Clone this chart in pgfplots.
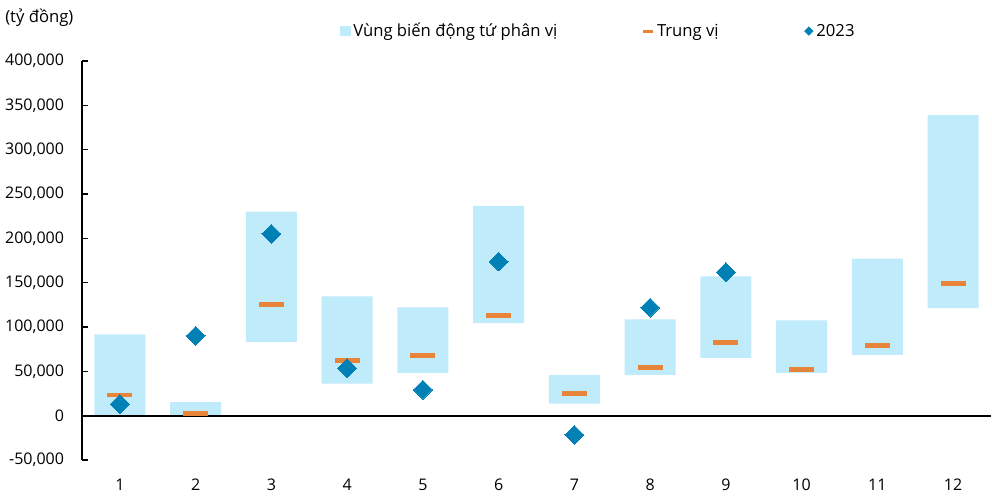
\documentclass[border=0pt]{standalone}
\usepackage{fontspec}
\setmainfont{Open Sans}
\usepackage{pgfplots}
\usepackage{pgfplotstable}
\pgfplotsset{compat=1.18}
\definecolor{barblue}{HTML}{BFEBFA}
\definecolor{medorange}{HTML}{E8833A}
\definecolor{dotblue}{HTML}{0080B4}

\pgfplotstableread{
cat bot top med
1 0 91800 23300
2 0 15400 2700
3 83000 230000 125000
4 36000 134500 62200
5 48300 122000 67800
6 104500 236700 113000
7 13500 45700 25200
8 46000 108700 54400
9 65200 157000 82500
10 48300 107500 52100
11 68500 177200 79100
12 121300 339000 148800
}\quart

\pgfplotstableread{
cat val
1 13100
2 90000
3 205000
4 53600
5 29200
6 173800
7 -21700
8 121800
9 161800
}\yrtwo

\pgfplotsset{
  base/.style={
    scale only axis, width=681.75pt, height=299.25pt,
    xmin=0.5, xmax=12.5, ymin=-50000, ymax=400000,
    font=\fontsize{12}{14}\selectfont,
  },
}

\begin{document}
\begin{tikzpicture}
\useasboundingbox (-61.5pt,-29.25pt) rectangle (682.5pt,345pt);

\begin{axis}[base,
  at={(0,0)}, anchor=south west,
  ybar stacked, bar width=0.673,
  axis y line*=left, axis x line*=bottom,
  x axis line style={draw=none},
  y axis line style={black, line width=0.8pt},
  xtick={1,...,12},
  ytick={-50000,0,50000,100000,150000,200000,250000,300000,350000,400000},
  scaled y ticks=false,
  yticklabel style={xshift=-10pt, /pgf/number format/.cd, fixed, 1000 sep={,}, assume math mode=true},
  xticklabel style={yshift=-11pt, /pgf/number format/assume math mode=true},
  tick align=inside,
  x tick style={draw=none},
  y tick style={black, line width=0.8pt},
  major tick length=4.5pt,
]
\addplot[draw=none, fill=none] table[x=cat, y=bot] {\quart};
\addplot[draw=none, fill=barblue] table[x=cat, y expr=\thisrow{top}-\thisrow{bot}] {\quart};
\end{axis}

\begin{axis}[base,
  at={(0,0)}, anchor=south west,
  axis lines=none, ticks=none,
  clip=false,
  legend columns=3,
  legend style={at={(0.284,1.075)}, anchor=west, draw=none, fill=none,
    font=\fontsize{12.5}{14}\selectfont,
    nodes={inner sep=2.25pt},
    /tikz/column 2/.style={column sep=61pt},
    /tikz/column 4/.style={column sep=62pt},
    inner sep=0pt},
]
\draw[black, line width=1.5pt] (axis cs:0.5,0) -- (axis cs:12.5,0);

\addlegendimage{legend image code/.code={\fill[barblue] (0pt,-3.5pt) rectangle (7pt,3.5pt);}}
\addlegendentry{Vùng biến động tứ phân vị}

\addplot[only marks, color=medorange, mark=-, mark size=9.4pt,
  mark options={draw=medorange, line width=3.6pt},
  legend image code/.code={\draw[medorange, line width=2.2pt] (0pt,0pt) -- (7pt,0pt);}]
  table[x=cat, y=med] {\quart};
\addlegendentry{Trung vị}

\addplot[only marks, color=dotblue, mark=square*, mark size=5pt,
  mark options={rotate=45, fill=dotblue, draw=dotblue, line width=0pt},
  legend image code/.code={\fill[dotblue] (3.5pt,-3.2pt) -- (6.7pt,0pt) -- (3.5pt,3.2pt) -- (0.3pt,0pt) -- cycle;}]
  table[x=cat, y=val] {\yrtwo};
\addlegendentry{2023}
\end{axis}

\node[anchor=west, inner sep=0pt, font=\fontsize{12.5}{14}\selectfont] at (-57.75pt,331.5pt) {(tỷ đồng)};
\end{tikzpicture}
\end{document}
